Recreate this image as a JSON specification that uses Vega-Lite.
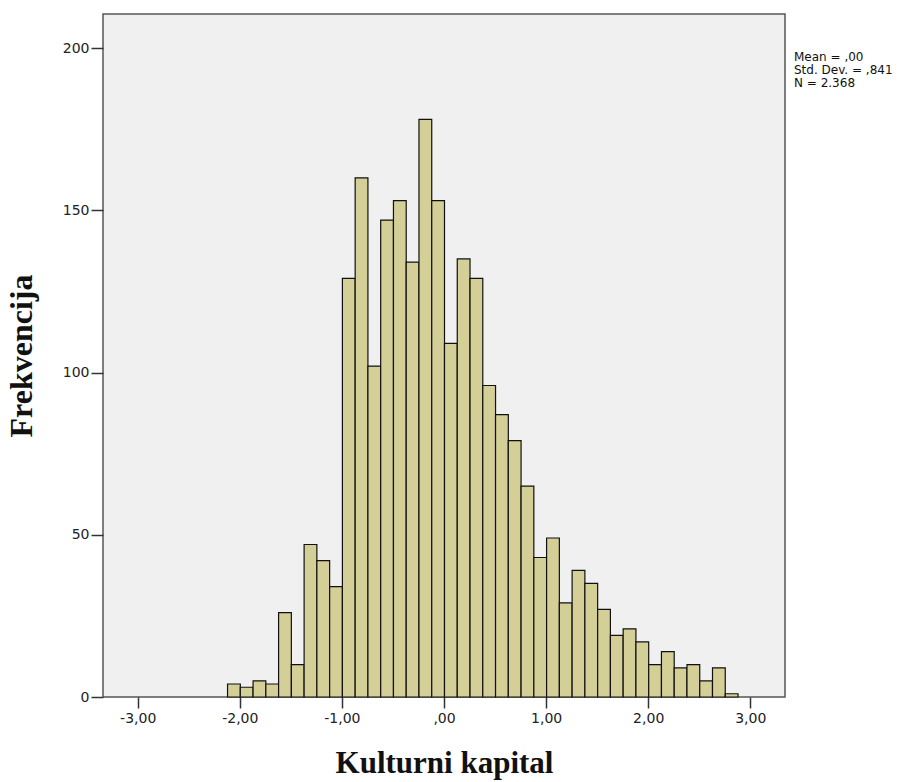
{
  "$schema": "https://vega.github.io/schema/vega-lite/v6.json",
  "autosize": {"type": "none"},
  "padding": {"left": 103, "top": 14, "right": 138, "bottom": 85},
  "width": 682,
  "height": 683,
  "background": "white",
  "config": {
    "view": {"stroke": "#555555", "strokeWidth": 1.5, "fill": "#f0f0f0"},
    "axis": {"grid": false, "domain": false, "labelFont": "DejaVu Sans", "labelFontSize": 14, "labelColor": "#222222", "tickColor": "#333333", "tickWidth": 1.5, "titleFont": "Liberation Serif", "titleFontWeight": "bold", "titleColor": "#111111"}
  },
  "datasets": {
    "bins": [
      {"start": -2.125, "end": -2.0, "count": 4},
      {"start": -2.0, "end": -1.875, "count": 3},
      {"start": -1.875, "end": -1.75, "count": 5},
      {"start": -1.75, "end": -1.625, "count": 4},
      {"start": -1.625, "end": -1.5, "count": 26},
      {"start": -1.5, "end": -1.375, "count": 10},
      {"start": -1.375, "end": -1.25, "count": 47},
      {"start": -1.25, "end": -1.125, "count": 42},
      {"start": -1.125, "end": -1.0, "count": 34},
      {"start": -1.0, "end": -0.875, "count": 129},
      {"start": -0.875, "end": -0.75, "count": 160},
      {"start": -0.75, "end": -0.625, "count": 102},
      {"start": -0.625, "end": -0.5, "count": 147},
      {"start": -0.5, "end": -0.375, "count": 153},
      {"start": -0.375, "end": -0.25, "count": 134},
      {"start": -0.25, "end": -0.125, "count": 178},
      {"start": -0.125, "end": 0.0, "count": 153},
      {"start": 0.0, "end": 0.125, "count": 109},
      {"start": 0.125, "end": 0.25, "count": 135},
      {"start": 0.25, "end": 0.375, "count": 129},
      {"start": 0.375, "end": 0.5, "count": 96},
      {"start": 0.5, "end": 0.625, "count": 87},
      {"start": 0.625, "end": 0.75, "count": 79},
      {"start": 0.75, "end": 0.875, "count": 65},
      {"start": 0.875, "end": 1.0, "count": 43},
      {"start": 1.0, "end": 1.125, "count": 49},
      {"start": 1.125, "end": 1.25, "count": 29},
      {"start": 1.25, "end": 1.375, "count": 39},
      {"start": 1.375, "end": 1.5, "count": 35},
      {"start": 1.5, "end": 1.625, "count": 27},
      {"start": 1.625, "end": 1.75, "count": 19},
      {"start": 1.75, "end": 1.875, "count": 21},
      {"start": 1.875, "end": 2.0, "count": 17},
      {"start": 2.0, "end": 2.125, "count": 10},
      {"start": 2.125, "end": 2.25, "count": 14},
      {"start": 2.25, "end": 2.375, "count": 9},
      {"start": 2.375, "end": 2.5, "count": 10},
      {"start": 2.5, "end": 2.625, "count": 5},
      {"start": 2.625, "end": 2.75, "count": 9},
      {"start": 2.75, "end": 2.875, "count": 1}
    ],
    "stats": [
      {"label": "Mean = ,00", "xpos": 3.34, "ypos": 197.2},
      {"label": "Std. Dev. = ,841", "xpos": 3.34, "ypos": 193.2},
      {"label": "N = 2.368", "xpos": 3.34, "ypos": 189.2}
    ]
  },
  "layer": [
    {
      "data": {"name": "bins"},
      "mark": {"type": "bar", "fill": "#d3cf97", "stroke": "#111111", "strokeWidth": 1.2, "binSpacing": 0},
      "encoding": {
        "x": {"field": "start", "type": "quantitative", "bin": "binned",
          "scale": {"domain": [-3.34, 3.34], "nice": false, "zero": false},
          "axis": {"values": [-3, -2, -1, 0, 1, 2, 3], "labelExpr": "datum.value == 0 ? ',00' : (datum.value < 0 ? '-' : '') + abs(datum.value) + ',00'", "title": "Kulturni kapital", "titleFontSize": 31, "titlePadding": 23, "tickSize": 11, "labelPadding": 3}},
        "x2": {"field": "end"},
        "y": {"field": "count", "type": "quantitative",
          "scale": {"domain": [0, 210.5], "nice": false},
          "axis": {"values": [0, 50, 100, 150, 200], "title": "Frekvencija", "titleFontSize": 32, "titlePadding": 24, "tickSize": 12, "labelPadding": 2}}
      }
    },
    {
      "data": {"name": "stats"},
      "mark": {"type": "text", "align": "left", "baseline": "middle", "dx": 9, "font": "DejaVu Sans", "fontSize": 12, "color": "#111111", "clip": false},
      "encoding": {
        "x": {"field": "xpos", "type": "quantitative"},
        "y": {"field": "ypos", "type": "quantitative"},
        "text": {"field": "label"}
      }
    }
  ]
}
